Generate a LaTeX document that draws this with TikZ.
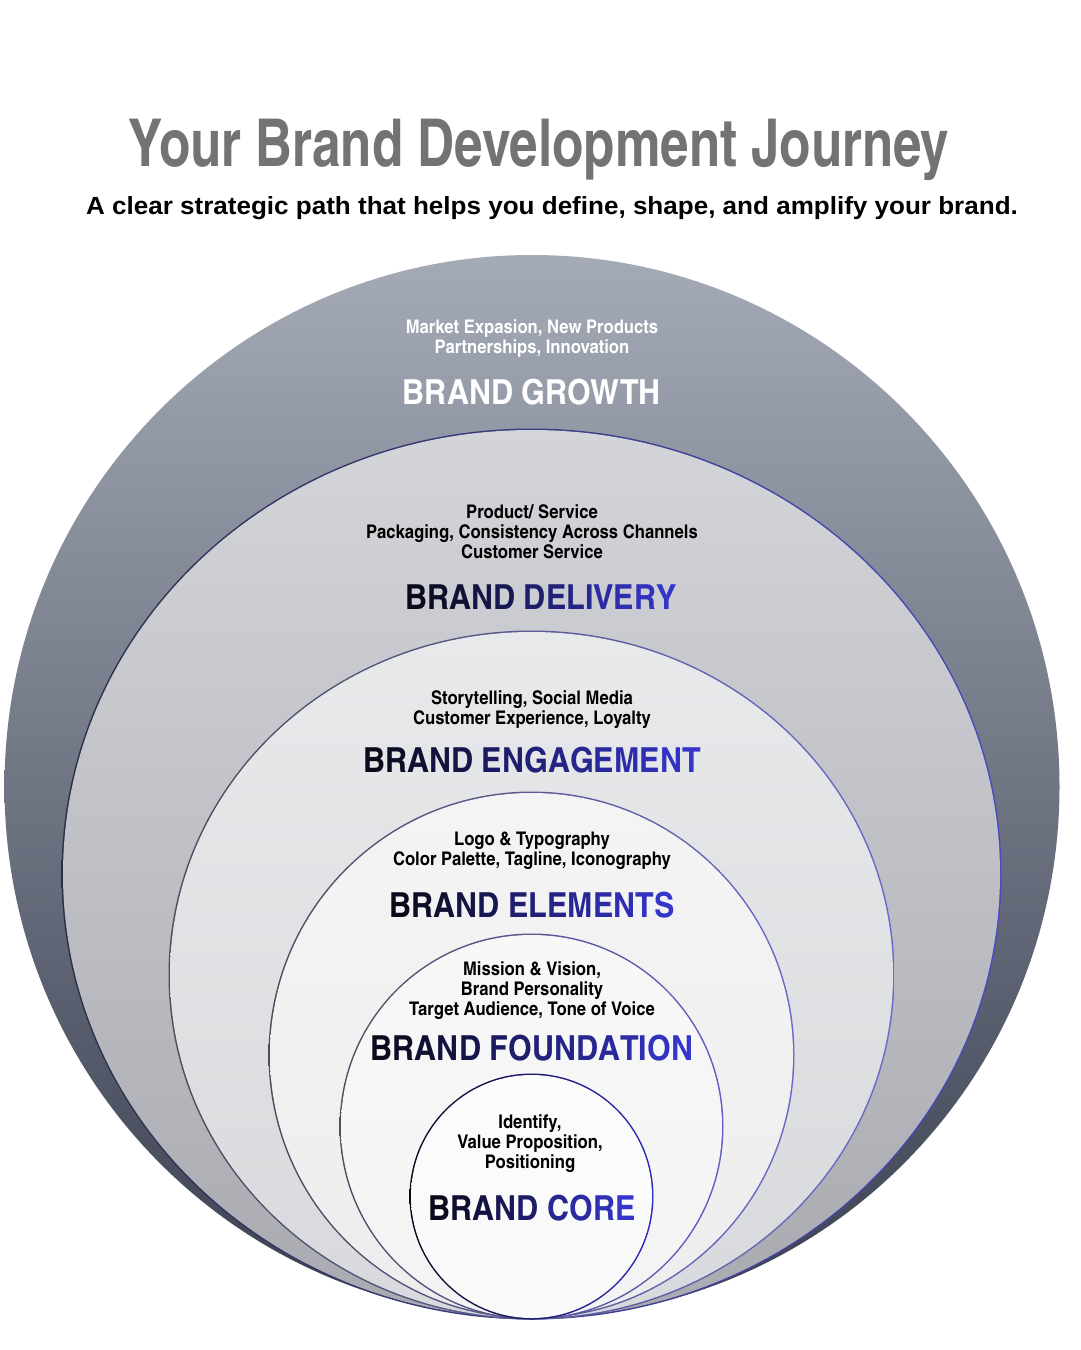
\documentclass[tikz,border=0pt]{standalone}
\usepackage{fontspec}
\setmainfont{Liberation Sans}
\newfontfamily\subfont{Liberation Sans}[FakeStretch=1.05]
\newfontfamily\headfont{texgyreheroscn}[Extension=.otf,UprightFont=*-regular,BoldFont=*-bold,FakeStretch=1.08]
\newfontfamily\titlefont{texgyreheroscn-bold}[Extension=.otf,FakeStretch=0.945]

\definecolor{titlegrey}{HTML}{737373}
\definecolor{inkA}{HTML}{0A0A1C}
\definecolor{inkC}{HTML}{3535CC}
\definecolor{growthtop}{HTML}{A4AAB6}
\definecolor{growthmid}{HTML}{7B8191}
\definecolor{growthbot}{HTML}{3A4050}
\definecolor{deliverytop}{HTML}{D3D5D9}
\definecolor{deliverybot}{HTML}{A8AAB0}
\definecolor{engagetop}{HTML}{E8E9EB}
\definecolor{engagebot}{HTML}{D8D9DC}
\definecolor{elemtop}{HTML}{F4F4F5}
\definecolor{elembot}{HTML}{EDEDEE}
\definecolor{foundtop}{HTML}{F8F8F8}
\definecolor{foundbot}{HTML}{F3F3F4}
\definecolor{coretop}{HTML}{FCFCFC}
\definecolor{corebot}{HTML}{F9F9F9}
\definecolor{delL}{HTML}{2C2F48}
\definecolor{delR}{HTML}{4A4AC0}
\definecolor{engL}{HTML}{4C4C5C}
\definecolor{engR}{HTML}{6A68CC}
\definecolor{foundL}{HTML}{505062}
\definecolor{foundR}{HTML}{5E5EC4}
\definecolor{coreL}{HTML}{0A0A1C}
\definecolor{coreR}{HTML}{2A2AC0}

% letters of a heading, coloured from inkA to inkC
\newcommand\gradhead[2]{\foreach \ch [count=\k] in {#2}{\pgfmathtruncatemacro\pc{100*(\k-1)/(#1-1)}\textcolor{inkC!\pc!inkA}{\ch}}}

\begin{document}
\begin{tikzpicture}[x=1pt,y=-1pt,
  note/.style={font=\headfont\bfseries\fontsize{18.8}{20}\selectfont,align=center,anchor=base,inner sep=0pt},
  head/.style={font=\headfont\bfseries\fontsize{34.5}{36}\selectfont,anchor=base,inner sep=0pt}]
\useasboundingbox (0,0) rectangle (1080,1350);
\fill[white] (0,0) rectangle (1080,1350);

\shade[top color=growthtop, middle color=growthmid, bottom color=growthbot] (532,786.5) ellipse[x radius=527.5, y radius=531.5];

\shade[left color=delL, right color=delR] (531.5,874) ellipse[x radius=470, y radius=445.5];
\shade[top color=deliverytop, bottom color=deliverybot] (531.5,874) ellipse[x radius=468.5, y radius=444];

\shade[left color=engL, right color=engR] (531.5,975) ellipse[x radius=363, y radius=344.5];
\shade[top color=engagetop, bottom color=engagebot] (531.5,975) ellipse[x radius=361.5, y radius=343];

\shade[left color=engL, right color=engR] (531.5,1055) ellipse[x radius=263, y radius=263.5];
\shade[top color=elemtop, bottom color=elembot] (531.5,1055) ellipse[x radius=261.5, y radius=262];

\shade[left color=foundL, right color=foundR] (531.5,1126.5) ellipse[x radius=192, y radius=193];
\shade[top color=foundtop, bottom color=foundbot] (531.5,1126.5) ellipse[x radius=190.5, y radius=191.5];

\shade[left color=coreL, right color=coreR] (531.5,1196.5) ellipse[x radius=122, y radius=123];
\shade[top color=coretop, bottom color=corebot] (531.5,1196.5) ellipse[x radius=120.5, y radius=121.5];

\node[font=\titlefont\fontsize{66}{70}\selectfont, text=titlegrey, anchor=base, inner sep=0pt] (title) at (539,166) {Your Brand Development Journey};
\node[font=\subfont\bfseries\fontsize{24.8}{27}\selectfont, anchor=base, inner sep=0pt] (subtitle) at (552,214) {A clear strategic path that helps you define, shape, and amplify your brand.};

\node[note, text=white] (growthnote) at (532,353) {Market Expasion, New Products\\Partnerships, Innovation};
\node[head, text=white] (growth) at (532,404) {BRAND GROWTH};

\node[note] (deliverynote) at (532,558) {Product/ Service\\Packaging, Consistency Across Channels\\Customer Service};
\node[head] (delivery) at (541,609) {\gradhead{14}{B,R,A,N,D,~,D,E,L,I,V,E,R,Y}};

\node[note] (engagenote) at (532,724) {Storytelling, Social Media\\Customer Experience, Loyalty};
\node[head] (engage) at (532,772) {\gradhead{16}{B,R,A,N,D,~,E,N,G,A,G,E,M,E,N,T}};

\node[note] (elemnote) at (532,865) {Logo \& Typography\\Color Palette, Tagline, Iconography};
\node[head] (elem) at (532,917) {\gradhead{14}{B,R,A,N,D,~,E,L,E,M,E,N,T,S}};

\node[note] (foundnote) at (532,1015) {Mission \& Vision,\\Brand Personality\\Target Audience, Tone of Voice};
\node[head] (found) at (532,1060) {\gradhead{16}{B,R,A,N,D,~,F,O,U,N,D,A,T,I,O,N}};

\node[note] (corenote) at (530,1168) {Identify,\\Value Proposition,\\Positioning};
\node[head] (core) at (532,1220) {\gradhead{10}{B,R,A,N,D,~,C,O,R,E}};
\end{tikzpicture}
\end{document}
